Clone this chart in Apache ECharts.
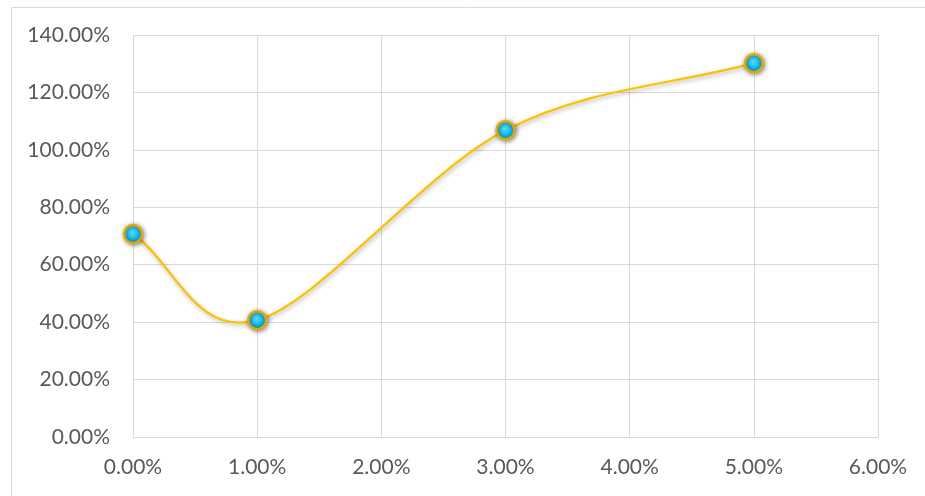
<!DOCTYPE html>
<html>
<head>
<meta charset="utf-8">
<script src="https://cdn.jsdelivr.net/npm/echarts@6/dist/echarts.min.js"></script>
<style>
  html, body { margin: 0; padding: 0; background: #fff; }
  #chart { width: 925px; height: 496px; }
</style>
</head>
<body>
<div id="chart"></div>
<script>
// x values (percent) and y values (percent)
const xValues = [0, 1, 3, 5];
const yValues = [70.7, 40.7, 106.8, 130.2];
const xTicks = { min: 0, max: 6, step: 1 };
const yTicks = { min: 0, max: 140, step: 20 };

const chart = echarts.init(document.getElementById("chart"));

const pct = (v) => v.toFixed(2) + "%";
const labelFont = "Lato, 'Open Sans', sans-serif";
const points = xValues.map((x, i) => [x, yValues[i]]);

// Excel-like smoothed line: cubic bezier, tangents from neighbours / 6
function smoothPath(api) {
  const P = points.map((p) => api.coord(p));
  const n = P.length;
  let d = "M" + P[0][0] + "," + P[0][1];
  for (let i = 0; i < n - 1; i++) {
    const a = P[i], b = P[i + 1];
    let c1, c2;
    if (i === 0) {
      c1 = [a[0] + (b[0] - a[0]) / 3, a[1] + (b[1] - a[1]) / 3];
    } else {
      const prev = P[i - 1];
      c1 = [a[0] + (b[0] - prev[0]) / 6, a[1] + (b[1] - prev[1]) / 6];
    }
    if (i === n - 2) {
      c2 = [b[0] - (b[0] - a[0]) / 3, b[1] - (b[1] - a[1]) / 3];
    } else {
      const next = P[i + 2];
      c2 = [b[0] - (next[0] - a[0]) / 6, b[1] - (next[1] - a[1]) / 6];
    }
    d += " C" + c1[0] + "," + c1[1] + " " + c2[0] + "," + c2[1] + " " + b[0] + "," + b[1];
  }
  return d;
}

const option = {
  animation: false,
  graphic: [
    {
      type: "rect",
      left: 9,
      top: 5,
      shape: { width: 930, height: 500 },
      style: { fill: "none", stroke: "#d9d9d9", lineWidth: 1 },
      silent: true,
    },
  ],
  grid: { left: 133, right: 47, top: 35, bottom: 59 },
  xAxis: {
    type: "value",
    min: xTicks.min,
    max: xTicks.max,
    interval: xTicks.step,
    axisLine: { show: true, lineStyle: { color: "#d9d9d9", width: 1 } },
    axisTick: { show: false },
    splitLine: { show: true, lineStyle: { color: "#d9d9d9", width: 1 } },
    axisLabel: {
      formatter: pct,
      color: "#595959",
      fontSize: 21,
      fontFamily: labelFont,
      margin: 20,
    },
  },
  yAxis: {
    type: "value",
    min: yTicks.min,
    max: yTicks.max,
    interval: yTicks.step,
    axisLine: { show: false },
    axisTick: { show: false },
    splitLine: { show: true, lineStyle: { color: "#d9d9d9", width: 1 } },
    axisLabel: {
      formatter: pct,
      color: "#595959",
      fontSize: 21,
      fontFamily: labelFont,
      margin: 23,
    },
  },
  series: [
    {
      type: "custom",
      data: points,
      z: 2,
      renderItem: (params, api) => {
        if (params.dataIndex !== 0) return { type: "group", children: [] };
        return {
          type: "path",
          shape: { pathData: smoothPath(api) },
          style: {
            fill: "none",
            stroke: "#ffc000",
            lineWidth: 2.25,
            shadowColor: "rgba(0,0,0,0.3)",
            shadowBlur: 4,
            shadowOffsetX: 1,
            shadowOffsetY: 2,
          },
        };
      },
    },
    {
      type: "scatter",
      data: points,
      z: 3,
      symbol: "circle",
      symbolSize: 18,
      itemStyle: {
        opacity: 1,
        color: {
          type: "radial",
          x: 0.45, y: 0.4, r: 0.6,
          colorStops: [
            { offset: 0, color: "#5fe0ff" },
            { offset: 0.7, color: "#00b4f0" },
            { offset: 1, color: "#0090d0" },
          ],
        },
        borderColor: "#e6a800",
        borderWidth: 2.5,
        shadowColor: "rgba(0,0,0,0.45)",
        shadowBlur: 5,
        shadowOffsetX: 1,
        shadowOffsetY: 1,
      },
    },
  ],
};

chart.setOption(option);
</script>
</body>
</html>
